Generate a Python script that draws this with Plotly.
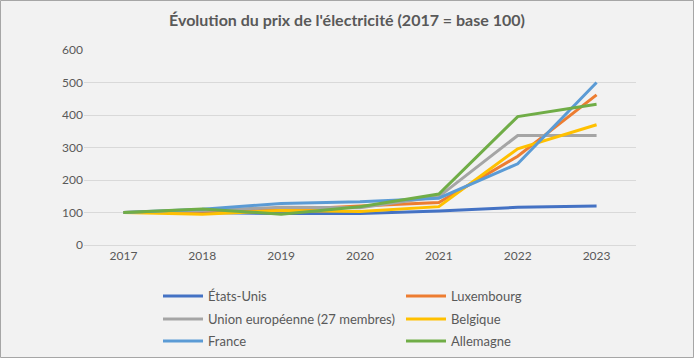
import plotly.graph_objects as go

years = ["2017", "2018", "2019", "2020", "2021", "2022", "2023"]
etats_unis = [100, 100, 97, 97, 105, 116, 120]
luxembourg = [100, 103, 108, 120, 131, 273, 462]
union_europeenne = [100, 106, 116, 115, 149, 337, 337]
belgique = [100, 95, 106, 103, 118, 296, 370]
france = [100, 110, 128, 133, 144, 250, 500]
allemagne = [100, 111, 95, 118, 157, 395, 433]

series_names = ["États-Unis", "Luxembourg", "Union européenne (27 membres)",
                "Belgique", "France", "Allemagne"]
series_values = [etats_unis, luxembourg, union_europeenne, belgique, france, allemagne]
series_colors = ["#4472C4", "#ED7D31", "#A5A5A5", "#FFC000", "#5B9BD5", "#70AD47"]

W, H = 694, 358
L, R, T, B = 84, 58, 50, 113
pw, ph = W - L - R, H - T - B

# legend slots: (x of symbol start, y centre) in pixels
col_x = [158, 401]
row_y = [296, 319, 341]

font = "Lato, 'Open Sans', sans-serif"
fig = go.Figure()
legends = {}
for i, (name, vals, col) in enumerate(zip(series_names, series_values, series_colors)):
    key = "legend" if i == 0 else f"legend{i + 1}"
    fig.add_trace(go.Scatter(x=years, y=vals, name=name, mode="lines",
                             line=dict(color=col, width=3), legend=key))
    legends[key] = dict(orientation="v", xref="container", yref="container",
                        x=col_x[i % 2] / W, y=1 - row_y[i // 2] / H,
                        xanchor="left", yanchor="middle",
                        font=dict(size=13, color="#595959"),
                        bgcolor="rgba(0,0,0,0)", itemwidth=40)

fig.update_layout(
    width=W, height=H,
    margin=dict(l=L, r=R, t=T, b=B, autoexpand=False),
    paper_bgcolor="#F2F2F2", plot_bgcolor="#F2F2F2",
    font=dict(family=font, color="#595959", size=12),
    title=dict(text="<b>Évolution du prix de l'électricité (2017 = base 100)</b>",
               x=0.5, xanchor="center", y=1 - 20 / H, yanchor="middle",
               xref="container", yref="container",
               font=dict(size=16, color="#595959", family=font)),
    xaxis=dict(type="category", showgrid=False, showline=True, linecolor="#D9D9D9",
               ticks="", tickfont=dict(size=12, color="#595959"), zeroline=False,
               range=[-0.5, 6.5]),
    yaxis=dict(range=[0, 600], dtick=100, showgrid=True, gridcolor="#D9D9D9",
               gridwidth=1, zeroline=False, showline=False, ticks="",
               tickfont=dict(size=12, color="#595959")),
    showlegend=True,
    shapes=[dict(type="rect", xref="paper", yref="paper",
                 x0=-L / pw + 0.5 / pw, x1=1 + (R - 0.5) / pw,
                 y0=-B / ph + 0.5 / ph, y1=1 + (T - 0.5) / ph,
                 line=dict(color="#A6A6A6", width=1), layer="below")],
    **legends,
)

fig.write_html("out.html", config={"displayModeBar": False},
               post_script="document.body.style.margin='0';document.body.style.padding='0';")
